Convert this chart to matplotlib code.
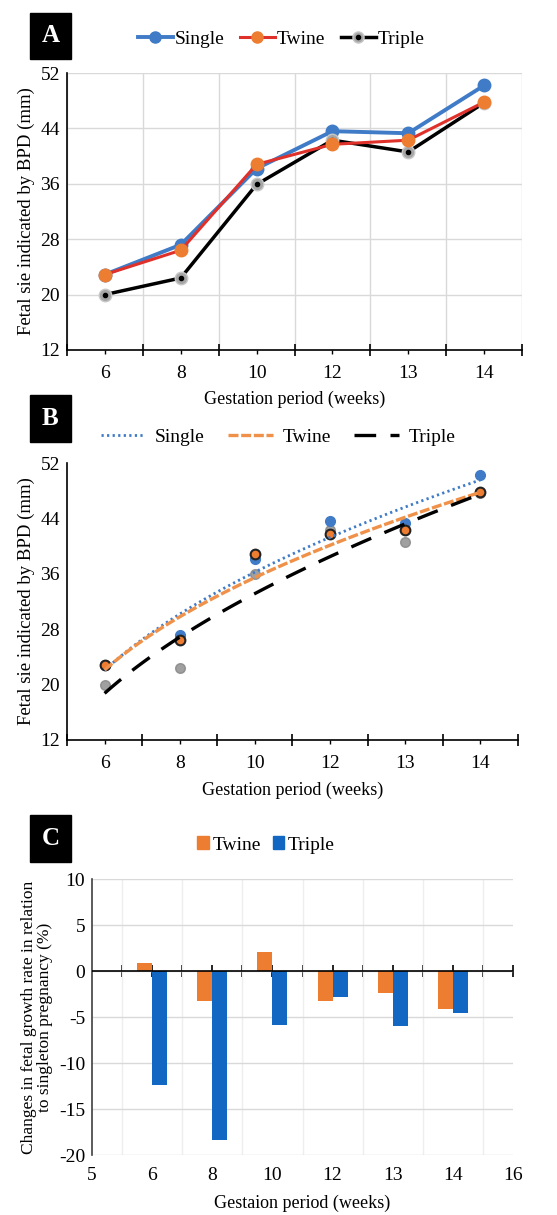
import numpy as np
import matplotlib
matplotlib.use('Agg')
import matplotlib.pyplot as plt
from matplotlib.lines import Line2D
from matplotlib.patches import Rectangle, Patch

plt.rcParams['font.family'] = ['Liberation Serif', 'DejaVu Serif']
plt.rcParams['axes.unicode_minus'] = False

# data
weeks = ['6', '8', '10', '12', '13', '14']
single = [22.9, 27.2, 38.2, 43.6, 43.3, 50.2]
twine = [22.9, 26.4, 38.8, 41.7, 42.3, 47.8]
triple = [20.0, 22.4, 35.9, 42.3, 40.6, 47.7]

c_labels = ['5', '6', '8', '10', '12', '13', '14', '16']
twine_change = [0.9, -3.3, 2.1, -3.3, -2.4, -4.1]
triple_change = [-12.4, -18.4, -5.9, -2.8, -6.0, -4.6]

BLUE = '#3f7bc6'
RED = '#e0302a'
ORANGE = '#ed7d31'
GRAY = '#a6a6a6'
BAR_BLUE = '#1167c2'

W, H = 557, 1215
fig = plt.figure(figsize=(W / 100, H / 100), dpi=100)


def box(px_left, px_top, px_right, px_bottom):
    return [px_left / W, 1 - px_bottom / H, (px_right - px_left) / W, (px_bottom - px_top) / H]


def letter(ch, top, bottom):
    fig.add_artist(Rectangle((30 / W, 1 - bottom / H), 41 / W, (bottom - top) / H,
                             transform=fig.transFigure, color='black'))
    fig.text(50.5 / W, 1 - (top + bottom) / 2 / H, ch, color='white', fontsize=18,
             fontweight='bold', ha='center', va='center')


def category_axes(ax):
    x = np.arange(len(weeks))
    ax.set_xlim(-0.5, len(weeks) - 0.5)
    ax.set_ylim(12, 52)
    ax.set_yticks(range(12, 53, 8))
    ax.set_xticks(x)
    ax.set_xticklabels(weeks)
    ax.set_xticks(np.arange(-0.5, len(weeks)), minor=True)
    ax.tick_params(axis='x', which='major', length=3, width=1, labelsize=14, pad=8)
    ax.tick_params(axis='x', which='minor', length=9, direction='inout', width=1.2)
    ax.tick_params(axis='y', length=0, labelsize=14, pad=5)
    for s in ['top', 'right']:
        ax.spines[s].set_visible(False)
    ax.spines['left'].set_linewidth(1.2)
    ax.spines['bottom'].set_linewidth(1.2)
    ax.set_ylabel('Fetal sie indicated by BPD (mm)', fontsize=13.5, labelpad=4)
    return x


# ---------------- A ----------------
axA = fig.add_axes(box(67, 73, 522, 350))
x = category_axes(axA)
axA.grid(True, which='minor', axis='x', color='#d9d9d9', lw=1)
axA.grid(True, which='major', axis='y', color='#d9d9d9', lw=1)
axA.set_axisbelow(True)
axA.plot(x, triple, color='black', lw=2.5, marker='o', ms=9, mfc=GRAY, mec='#c8c8c8', zorder=3)
axA.plot(x, triple, ls='none', marker='o', ms=3, color='black', zorder=3.1)
axA.plot(x, twine, color=RED, lw=2.2, marker='o', ms=9, mfc=ORANGE, mec=ORANGE, zorder=4)
axA.plot(x, single, color=BLUE, lw=2.8, marker='o', ms=9, mfc=BLUE, mec=BLUE, zorder=2.5)
axA.set_xlabel('Gestation period (weeks)', fontsize=13, labelpad=6)

hA = [Line2D([], [], color=BLUE, lw=2.8, marker='o', ms=8),
      Line2D([], [], color=RED, lw=2.2, marker='o', ms=8, mfc=ORANGE, mec=ORANGE),
      (Line2D([], [], color='black', lw=2.5, marker='o', ms=8, mfc=GRAY, mec='#c8c8c8'),
       Line2D([], [], ls='none', marker='o', ms=3, color='black'))]
fig.legend(hA, ['Single', 'Twine', 'Triple'], loc='center', bbox_to_anchor=(281 / W, 1 - 39 / H),
           ncol=3, frameon=False, fontsize=14, handlelength=1.8, handletextpad=0.1,
           columnspacing=0.8)
letter('A', 13, 59)

# ---------------- B ----------------
axB = fig.add_axes(box(67, 463, 518, 740))
x = category_axes(axB)
xs = np.linspace(1, len(weeks), 100)


def power_fit(vals):
    p, lnc = np.polyfit(np.log(np.arange(1, len(vals) + 1)), np.log(vals), 1)
    return np.exp(lnc) * xs ** p


axB.plot(x, triple, ls='none', marker='o', ms=7, color='#808080', alpha=0.75, zorder=2)
axB.plot(x, single, ls='none', marker='o', ms=7, color=BLUE, zorder=3)
axB.plot(x, twine, ls='none', marker='o', ms=7, mfc=ORANGE, mec='#222222', mew=1.5, zorder=4)
axB.plot(xs - 1, power_fit(single), color=BLUE, lw=2, ls=(0, (0.8, 1.2)), zorder=5)
axB.plot(xs - 1, power_fit(twine), color='#f0914a', lw=2.4, ls=(0, (3, 0.8)), zorder=5)
axB.plot(xs - 1, power_fit(triple), color='black', lw=2.4, ls=(0, (6.5, 4.3)), zorder=5)
axB.set_xlabel('Gestation period (weeks)', fontsize=13, labelpad=6.5)

hB = [Line2D([], [], color=BLUE, lw=2, ls=(0, (0.8, 1.2))),
      Line2D([], [], color='#f0914a', lw=2.4, ls=(0, (3, 0.8))),
      Line2D([], [], color='black', lw=2.4, ls=(0, (6.5, 4.3)))]
fig.legend(hB, ['Single', 'Twine', 'Triple'], loc='center', bbox_to_anchor=(278 / W, 1 - 437 / H),
           ncol=3, frameon=False, fontsize=14, handlelength=2.3, handletextpad=0.5,
           columnspacing=1.2)
letter('B', 395, 442)

# ---------------- C ----------------
axC = fig.add_axes(box(92, 879, 513, 1155))
pos = np.arange(1, len(twine_change) + 1)
axC.bar(pos - 0.125, twine_change, width=0.25, color=ORANGE, zorder=3)
axC.bar(pos + 0.125, triple_change, width=0.25, color=BAR_BLUE, zorder=3)
axC.set_xlim(0, len(c_labels) - 1)
axC.set_ylim(-20, 10)
axC.set_yticks(range(-20, 11, 5))
axC.set_xticks(range(len(c_labels)))
axC.set_xticklabels(c_labels)
axC.set_xticks(np.arange(0, len(c_labels) - 0.9, 0.5), minor=True)
axC.grid(True, which='minor', axis='x', color='#eeeeee', lw=1)
axC.grid(True, which='major', axis='y', color='#d9d9d9', lw=1)
axC.set_axisbelow(True)
axC.tick_params(axis='x', which='both', length=0, labelsize=14, pad=9)
axC.tick_params(axis='y', length=0, labelsize=14, pad=5)
for s in ['top', 'right', 'bottom']:
    axC.spines[s].set_visible(False)
axC.spines['left'].set_linewidth(1.2)
axC.spines['left'].set_color('#404040')
axC.axhline(0, color='black', lw=1.2, zorder=4)
zero = axC.secondary_xaxis(20 / 30)
zero.set_xticks(np.arange(0.5, len(c_labels) - 0.9, 0.5))
zero.set_xticklabels([])
zero.tick_params(length=9, direction='inout', width=1.2)
zero.spines['bottom'].set_visible(False)
zero.spines['top'].set_visible(False)
axC.set_xlabel('Gestaion period (weeks)', fontsize=13, labelpad=7)
axC.set_ylabel('Changes in fetal growth rate in relation\nto singleton pregnancy (%)',
               fontsize=12.5, labelpad=4, linespacing=1.05)

hC = [Patch(color=ORANGE), Patch(color=BAR_BLUE)]
fig.legend(hC, ['Twine', 'Triple'], loc='center', bbox_to_anchor=(266 / W, 1 - 845 / H),
           ncol=2, frameon=False, fontsize=14, handlelength=0.6, handleheight=0.6,
           handletextpad=0.2, columnspacing=0.6)
letter('C', 815, 862)

fig.savefig('out.png', dpi=100)
